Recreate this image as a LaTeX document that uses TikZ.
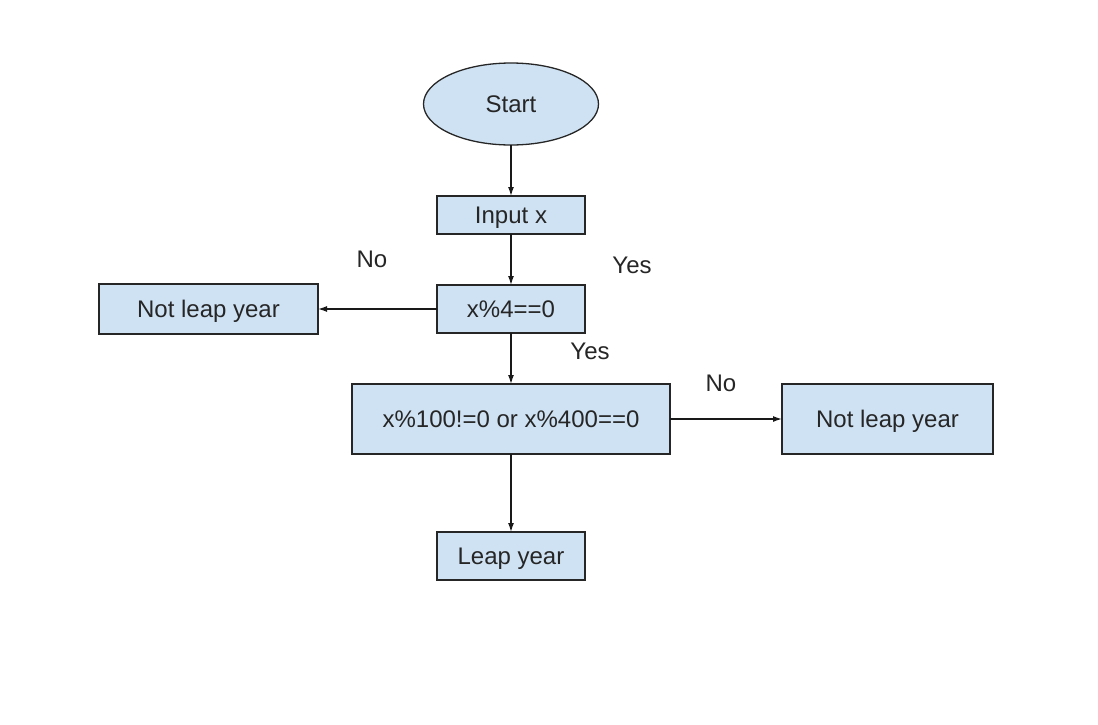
\documentclass[tikz,border=0pt]{standalone}
\usepackage{fontspec}
\setmainfont{Liberation Sans}
\usetikzlibrary{arrows.meta,shapes.geometric}
\definecolor{boxfill}{HTML}{CFE2F3}
\begin{document}
\begin{tikzpicture}[x=1pt,y=-1pt,
  every node/.style={font=\fontsize{24}{28}\selectfont, text=black!85, text height=17pt, text depth=0pt},
  box/.style={draw=black!85, fill=boxfill, line width=1.3pt, inner sep=0pt, outer sep=0pt},
  conn/.style={draw=black!90, line width=1.3pt, -{Latex[length=9pt,width=6pt]}},
  lbl/.style={inner sep=0pt}]
\useasboundingbox (0,0) rectangle (1098,724);
\node[box, ellipse, minimum width=175pt, minimum height=82pt] (start) at (511,104) {Start};
\node[box, rectangle, minimum width=148pt, minimum height=38pt] (input) at (511,215) {Input x};
\node[box, rectangle, minimum width=148pt, minimum height=48pt] (mod4) at (511,309) {x\%4==0};
\node[box, rectangle, minimum width=219pt, minimum height=50pt] (notl) at (208.5,309) {Not leap year};
\node[box, rectangle, minimum width=318pt, minimum height=70pt] (mod100) at (511,419) {x\%100!=0 or x\%400==0};
\node[box, rectangle, minimum width=211pt, minimum height=70pt] (notr) at (887.5,419) {Not leap year};
\node[box, rectangle, minimum width=148pt, minimum height=48pt] (leap) at (511,556) {Leap year};
\draw[conn] (start) -- (input);
\draw[conn] (input) -- (mod4);
\draw[conn] (mod4) -- (notl);
\draw[conn] (mod4) -- (mod100);
\draw[conn] (mod100) -- (notr);
\draw[conn] (mod100) -- (leap);
\node[lbl] (no1) at (372,259) {No};
\node[lbl] (yes1) at (632,265) {Yes};
\node[lbl] (yes2) at (590,351) {Yes};
\node[lbl] (no2) at (721,383) {No};
\end{tikzpicture}
\end{document}
